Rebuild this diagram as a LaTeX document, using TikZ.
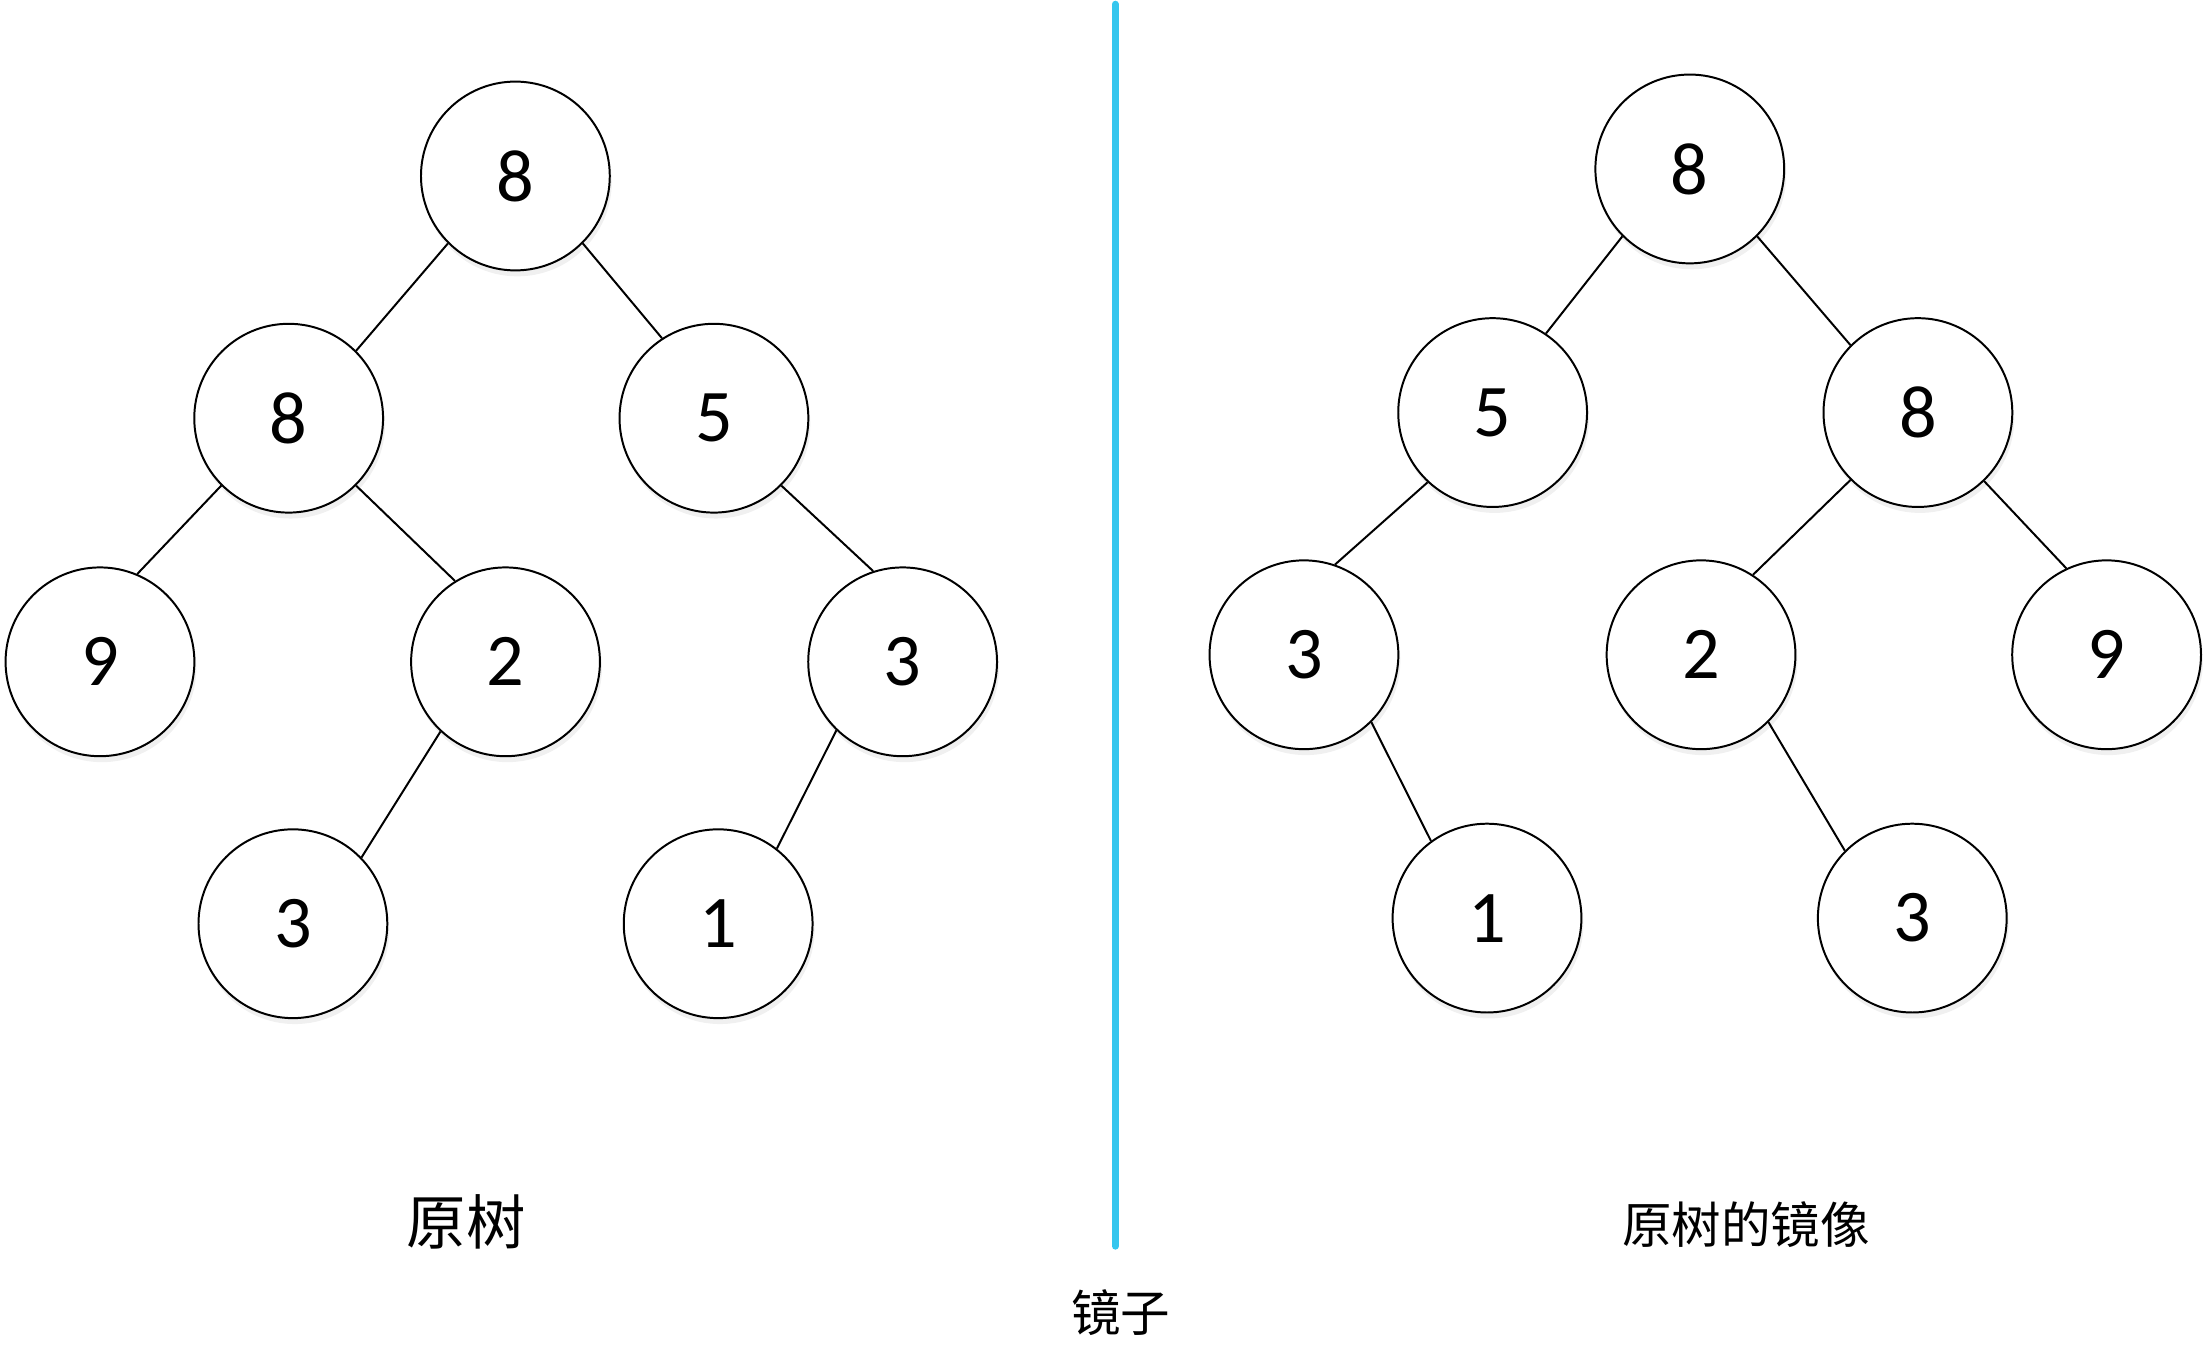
\documentclass[tikz,border=0pt]{standalone}
\usepackage{fontspec}
\setmainfont{Carlito}
\newfontfamily\cjk{Noto Sans CJK SC}
\usetikzlibrary{shadows}
\definecolor{mirrorblue}{HTML}{35C6EE}

\begin{document}
\begin{tikzpicture}
  [x=0.01cm,y=-0.01cm,
   vertex/.style={circle,draw,line width=0.4pt,fill=white,minimum size=1.34cm,inner sep=0pt,
     font=\fontsize{15}{18}\selectfont,
     drop shadow={shadow xshift=0.4pt,shadow yshift=-1.2pt,opacity=0.12}},
   caption/.style={font=\cjk\fontsize{12}{14}\selectfont}]
  \useasboundingbox (0,0) rectangle (1568,968);
  % original tree
  \node[vertex] (l1) at (366,125) {8};
  \node[vertex] (l2) at (205,297) {8};
  \node[vertex] (l3) at (507,297) {5};
  \node[vertex] (l4) at (71,470)  {9};
  \node[vertex] (l5) at (359,470) {2};
  \node[vertex] (l6) at (641,470) {3};
  \node[vertex] (l7) at (208,656) {3};
  \node[vertex] (l8) at (510,656) {1};
  % mirrored tree
  \node[vertex] (r1) at (1200,120) {8};
  \node[vertex] (r2) at (1060,293) {5};
  \node[vertex] (r3) at (1362,293) {8};
  \node[vertex] (r4) at (926,465)  {3};
  \node[vertex] (r5) at (1208,465) {2};
  \node[vertex] (r6) at (1496,465) {9};
  \node[vertex] (r7) at (1056,652) {1};
  \node[vertex] (r8) at (1358,652) {3};

  \foreach \from/\fa/\to/\ta in {l1/225/l2/45,l1/315/l3/123,l2/225/l4/67,l2/315/l5/122,
  l3/315/l6/108,l5/227/l7/44,l6/226/l8/52,
  r1/225/r2/56,r1/315/r3/135,r2/227/r4/71,r3/225/r5/57,r3/314/r6/115,
  r4/315/r7/126,r5/315/r8/135}
    \draw[line width=0.4pt] (\from.\fa) -- (\to.\ta);

  \coordinate (mtop) at (792,3);
  \coordinate (mbot) at (792,885);
  \draw[mirrorblue,line width=1.4pt,line cap=round] (mtop) -- (mbot);

  \node[caption,font=\cjk\fontsize{12}{14}\selectfont] (lcap) at (331,868) {原树};
  \node[caption,font=\cjk\fontsize{10}{12}\selectfont] (rcap) at (1240,870) {原树的镜像};
  \node[caption,font=\cjk\fontsize{10}{12}\selectfont] (mcap) at (796,932) {镜子};
\end{tikzpicture}
\end{document}
